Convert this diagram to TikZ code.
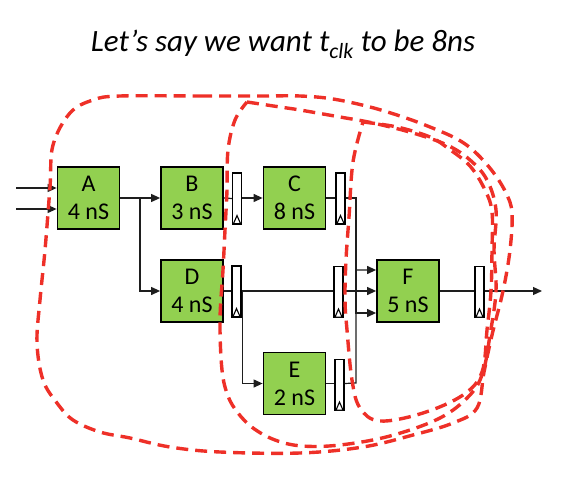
\documentclass[tikz,border=0pt]{standalone}
\usepackage{fontspec}
\setmainfont{Carlito}
\usetikzlibrary{arrows.meta}
\definecolor{boxgreen}{RGB}{146,208,80}
\definecolor{loopred}{RGB}{238,48,40}
\definecolor{wire}{RGB}{30,30,30}
\tikzset{
  blk/.style={draw, line width=1.8pt, fill=boxgreen, minimum width=62pt, minimum height=62pt,
    align=center, inner sep=0pt, font=\fontsize{24}{28}\selectfont},
  reg/.style={draw, line width=1.1pt, fill=white, minimum width=9pt, minimum height=51pt, inner sep=0pt},
  clk/.style={draw, line width=1.1pt, fill=white},
  wireline/.style={draw=wire, line width=1.2pt},
  arr/.style={wireline, -{Triangle[length=9pt,width=8pt]}},
  loopline/.style={draw=loopred, line width=3.4pt, dash pattern=on 12pt off 7pt, line join=round},
}
\begin{document}
\begin{tikzpicture}[x=1pt,y=-1pt]
\useasboundingbox (0,0) rectangle (564,478);
\node[anchor=base, font=\fontsize{31}{34}\selectfont\itshape] (title) at (283,52) {Let’s say we want t\textsubscript{clk} to be 8ns};
% blocks
\node[blk] (A) at (88.5,198) {A\\4 nS};
\node[blk] (B) at (192,198) {B\\3 nS};
\node[blk] (C) at (294.5,198) {C\\8 nS};
\node[blk] (D) at (192,291) {D\\4 nS};
\node[blk] (E) at (294.5,383.5) {E\\2 nS};
\node[blk] (F) at (408,291) {F\\5 nS};
% registers
\node[reg] (rB) at (237,198.5) {};
\node[reg] (rC) at (340.5,198.5) {};
\node[reg] (rD) at (236.5,291.5) {};
\node[reg] (rD2) at (338.5,292) {};
\node[reg] (rE) at (339.5,385) {};
\node[reg] (rF) at (479.5,292) {};
\foreach \r in {rB,rC,rD,rD2,rE,rF}{
  \path[clk] ([xshift=-3.5pt,yshift=1pt]\r.south) -- ([xshift=3.5pt,yshift=1pt]\r.south) -- ([yshift=9pt]\r.south) -- cycle;
}
% coordinates
\coordinate (in1) at (16,188);
\coordinate (in2) at (16,209);
\coordinate (j1) at (140,198);
\coordinate (j2) at (356,198);
\coordinate (j3) at (356,383);
\coordinate (out) at (542,291);
% wires
\draw[arr] (in1) -- (in1 -| A.west);
\draw[arr] (in2) -- (in2 -| A.west);
\draw[arr] (A.east) -- (B.west);
\draw[arr] (j1) |- (D.west);
\draw[wireline] (B.east) -- (rB.west);
\draw[arr] (rB.east |- B.east) -- (C.west);
\draw[wireline] (C.east) -- (C.east -| rC.west);
\draw[arr] (C.east -| rC.east) -- (j2) |- ([yshift=-22pt]F.west);
\draw[wireline] (D.east) -- (D.east -| rD.west);
\draw[wireline] (D.east -| rD.east) -- (D.east -| rD2.west);
\draw[arr] (D.east -| rD2.east) -- (F.west);
\draw[arr] ([xshift=1pt]rD.east |- D.east) |- (E.west);
\draw[wireline] (E.east) -- (E.east -| rE.west);
\draw[arr] (E.east -| rE.east) -- (j3) |- ([yshift=21pt]F.west);
\draw[wireline] (F.east) -- (F.east -| rF.west);
\draw[arr] (F.east -| rF.east) -- (out);
% dashed loops
\draw[loopline] plot[smooth cycle, tension=0.6] coordinates {
 (120,96) (200,96) (260,96) (300,96) (333,99) (370,107) (403,117) (430,127) (457,139) (475,152)
 (493,172) (506,193) (512,213) (510,250) (503,291) (492,335) (484,372) (477,408) (453,423)
 (413,435) (363,447) (300,453) (220,452) (170,447) (130,438) (100,432) (73,420) (57,403)
 (43,380) (37,343) (40,300) (45,250) (50,187) (53,145) (70,113) (93,100)};
\draw[loopline] plot[smooth, tension=0.6] coordinates {
 (247,102) (280,107) (300,110) (340,117) (373,123) (413,133) (447,145) (470,160) (487,180)
 (496,210) (494,250) (496,291) (490,335) (483,372) (470,395) (440,418) (390,436) (340,445)
 (302,446) (275,440) (253,428) (238,413) (228,396) (222,370) (220,320) (223,270) (225,230)
 (227,190) (228,150) (235,120) (247,102)};
\draw[loopline] plot[smooth, tension=0.6] coordinates {
 (363,122) (397,127) (430,137) (449,149) (470,166) (485,190) (492,212) (492,250) (491,291)
 (487,330) (482,372) (463,395) (423,413) (380,421) (360,408) (352,380) (347,330) (345,300)
 (346,260) (349,217) (353,162) (363,122)};
\end{tikzpicture}
\end{document}
